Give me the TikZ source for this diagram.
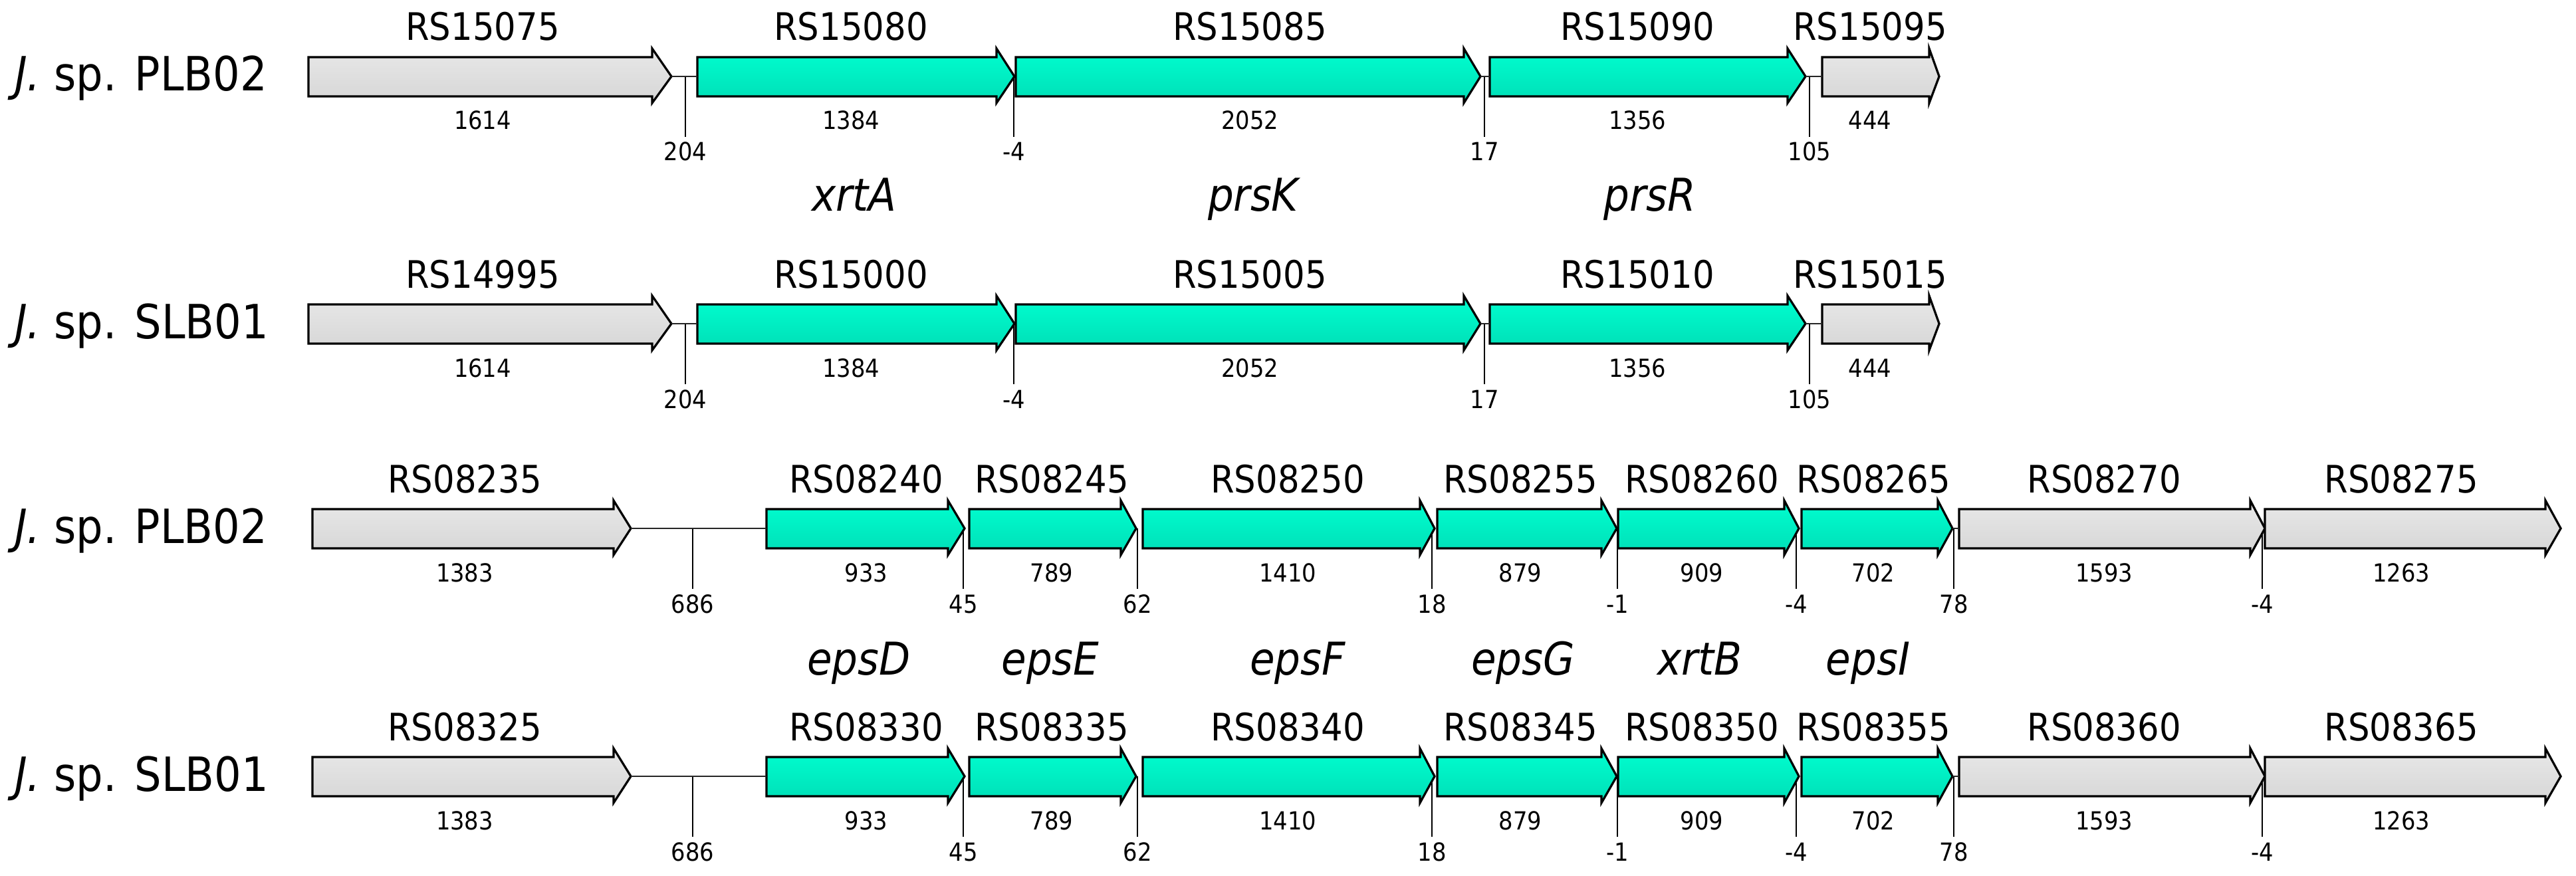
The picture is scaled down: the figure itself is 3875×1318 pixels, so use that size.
\documentclass[tikz,border=0pt]{standalone}
\usepackage{fontspec}
\setmainfont{DejaVu Sans}[FakeStretch=0.9]
\definecolor{cyanfill}{RGB}{0,255,208}
\definecolor{cyandark}{RGB}{0,222,182}
\definecolor{greyfill}{RGB}{232,232,232}
\definecolor{greydark}{RGB}{214,214,214}
\tikzset{
  cyangene/.style={draw=black,line width=0.65pt,line join=miter,top color=cyanfill,middle color=cyanfill,bottom color=cyandark},
  greygene/.style={draw=black,line width=0.65pt,line join=miter,top color=greyfill,middle color=greyfill,bottom color=greydark},
  rslab/.style={anchor=base,inner sep=0pt,font=\fontsize{11.4}{13}\selectfont},
  lenlab/.style={anchor=base,inner sep=0pt,font=\fontsize{7.5}{9}\selectfont},
  namelab/.style={anchor=base,inner sep=0pt,font=\fontsize{13.6}{15}\selectfont\itshape},
  specieslab/.style={anchor=base west,inner sep=0pt,font=\fontsize{14.2}{16}\selectfont},
  tickline/.style={draw=black,line width=0.4pt},
  spacer/.style={draw=black!85,line width=0.5pt}
}
% #1 id, #2 start x, #3 head start x, #4 tip x, #5 centre y, #6 style
\newcommand{\gene}[6]{%
  \draw[#6] (#2,#5-29) -- (#3,#5-29) -- (#3,#5-42) -- (#4,#5) -- (#3,#5+40) -- (#3,#5+30) -- (#2,#5+30) -- cycle;
  \coordinate (#1s) at (#2,#5);
  \coordinate (#1e) at (#4,#5);}
% #1 id, #2 x, #3 centre y, #4 locus name, #5 length
\newcommand{\glabels}[5]{%
  \node[rslab] (#1n) at (#2,#3-54) {#4};
  \node[lenlab] (#1l) at (#2,#3+80) {#5};}
% #1 id, #2 x, #3 centre y, #4 distance
\newcommand{\gtick}[4]{%
  \coordinate (#1t) at (#2,#3);
  \coordinate (#1b) at (#2,#3+91);
  \draw[tickline] (#1t) -- (#1b);
  \node[lenlab] (#1v) at (#2,#3+127) {#4};}
\begin{document}
\begin{tikzpicture}[x=0.2pt,y=-0.2pt]
\useasboundingbox (0,0) rectangle (3875,1318);

% ---------------- Row 1 ----------------
\def\ya{115}
\node[specieslab] (sp1) at (21,\ya+22) {\textit{J.} sp. PLB02};
\gtick{r1a}{1031}{\ya}{204}
\gtick{r1b}{1525}{\ya}{-4}
\gtick{r1c}{2233}{\ya}{17}
\gtick{r1d}{2722}{\ya}{105}
\gene{r1g1}{464}{981}{1010}{\ya}{greygene}
\gene{r1g2}{1049}{1499}{1526}{\ya}{cyangene}
\gene{r1g3}{1528}{2202}{2227}{\ya}{cyangene}
\gene{r1g4}{2241}{2689}{2716}{\ya}{cyangene}
\gene{r1g5}{2741}{2902}{2917}{\ya}{greygene}
\draw[spacer] (r1g1e) -- (r1g2s);
\draw[spacer] (r1g3e) -- (r1g4s);
\draw[spacer] (r1g4e) -- (r1g5s);
\glabels{r1g1}{726}{\ya}{RS15075}{1614}
\glabels{r1g2}{1280}{\ya}{RS15080}{1384}
\glabels{r1g3}{1880}{\ya}{RS15085}{2052}
\glabels{r1g4}{2463}{\ya}{RS15090}{1356}
\glabels{r1g5}{2813}{\ya}{RS15095}{444}

% gene names between rows 1 and 2
\node[namelab] (nxrtA) at (1285,318) {xrtA};
\node[namelab] (nprsK) at (1885,318) {prsK};
\node[namelab] (nprsR) at (2482,318) {prsR};

% ---------------- Row 2 ----------------
\def\yb{487}
\node[specieslab] (sp2) at (21,\yb+22) {\textit{J.} sp. SLB01};
\gtick{r2a}{1031}{\yb}{204}
\gtick{r2b}{1525}{\yb}{-4}
\gtick{r2c}{2233}{\yb}{17}
\gtick{r2d}{2722}{\yb}{105}
\gene{r2g1}{464}{981}{1010}{\yb}{greygene}
\gene{r2g2}{1049}{1499}{1526}{\yb}{cyangene}
\gene{r2g3}{1528}{2202}{2227}{\yb}{cyangene}
\gene{r2g4}{2241}{2689}{2716}{\yb}{cyangene}
\gene{r2g5}{2741}{2902}{2917}{\yb}{greygene}
\draw[spacer] (r2g1e) -- (r2g2s);
\draw[spacer] (r2g3e) -- (r2g4s);
\draw[spacer] (r2g4e) -- (r2g5s);
\glabels{r2g1}{726}{\yb}{RS14995}{1614}
\glabels{r2g2}{1280}{\yb}{RS15000}{1384}
\glabels{r2g3}{1880}{\yb}{RS15005}{2052}
\glabels{r2g4}{2463}{\yb}{RS15010}{1356}
\glabels{r2g5}{2813}{\yb}{RS15015}{444}

% ---------------- Row 3 ----------------
\def\yc{795}
\node[specieslab] (sp3) at (21,\yc+22) {\textit{J.} sp. PLB02};
\gtick{r3a}{1042}{\yc}{686}
\gtick{r3b}{1449}{\yc}{45}
\gtick{r3c}{1711}{\yc}{62}
\gtick{r3d}{2154}{\yc}{18}
\gtick{r3e}{2433}{\yc}{-1}
\gtick{r3f}{2702}{\yc}{-4}
\gtick{r3g}{2939}{\yc}{78}
\gtick{r3h}{3403}{\yc}{-4}
\gene{r3g1}{470}{923}{949}{\yc}{greygene}
\gene{r3g2}{1153}{1426}{1451}{\yc}{cyangene}
\gene{r3g3}{1458}{1686}{1709}{\yc}{cyangene}
\gene{r3g4}{1719}{2136}{2158}{\yc}{cyangene}
\gene{r3g5}{2162}{2409}{2432}{\yc}{cyangene}
\gene{r3g6}{2434}{2684}{2706}{\yc}{cyangene}
\gene{r3g7}{2710}{2915}{2937}{\yc}{cyangene}
\gene{r3g8}{2947}{3385}{3407}{\yc}{greygene}
\gene{r3g9}{3407}{3829}{3852}{\yc}{greygene}
\draw[spacer] (r3g1e) -- (r3g2s);
\draw[spacer] (r3g7e) -- (r3g8s);
\glabels{r3g1}{699}{\yc}{RS08235}{1383}
\glabels{r3g2}{1303}{\yc}{RS08240}{933}
\glabels{r3g3}{1582}{\yc}{RS08245}{789}
\glabels{r3g4}{1937}{\yc}{RS08250}{1410}
\glabels{r3g5}{2287}{\yc}{RS08255}{879}
\glabels{r3g6}{2560}{\yc}{RS08260}{909}
\glabels{r3g7}{2818}{\yc}{RS08265}{702}
\glabels{r3g8}{3165}{\yc}{RS08270}{1593}
\glabels{r3g9}{3612}{\yc}{RS08275}{1263}

% gene names between rows 3 and 4
\node[namelab] (nepsD) at (1292,1015) {epsD};
\node[namelab] (nepsE) at (1580,1015) {epsE};
\node[namelab] (nepsF) at (1952,1015) {epsF};
\node[namelab] (nepsG) at (2291,1015) {epsG};
\node[namelab] (nxrtB) at (2557,1015) {xrtB};
\node[namelab] (nepsI) at (2810,1015) {epsI};

% ---------------- Row 4 ----------------
\def\yd{1168}
\node[specieslab] (sp4) at (21,\yd+22) {\textit{J.} sp. SLB01};
\gtick{r4a}{1042}{\yd}{686}
\gtick{r4b}{1449}{\yd}{45}
\gtick{r4c}{1711}{\yd}{62}
\gtick{r4d}{2154}{\yd}{18}
\gtick{r4e}{2433}{\yd}{-1}
\gtick{r4f}{2702}{\yd}{-4}
\gtick{r4g}{2939}{\yd}{78}
\gtick{r4h}{3403}{\yd}{-4}
\gene{r4g1}{470}{923}{949}{\yd}{greygene}
\gene{r4g2}{1153}{1426}{1451}{\yd}{cyangene}
\gene{r4g3}{1458}{1686}{1709}{\yd}{cyangene}
\gene{r4g4}{1719}{2136}{2158}{\yd}{cyangene}
\gene{r4g5}{2162}{2409}{2432}{\yd}{cyangene}
\gene{r4g6}{2434}{2684}{2706}{\yd}{cyangene}
\gene{r4g7}{2710}{2915}{2937}{\yd}{cyangene}
\gene{r4g8}{2947}{3385}{3407}{\yd}{greygene}
\gene{r4g9}{3407}{3829}{3852}{\yd}{greygene}
\draw[spacer] (r4g1e) -- (r4g2s);
\draw[spacer] (r4g7e) -- (r4g8s);
\glabels{r4g1}{699}{\yd}{RS08325}{1383}
\glabels{r4g2}{1303}{\yd}{RS08330}{933}
\glabels{r4g3}{1582}{\yd}{RS08335}{789}
\glabels{r4g4}{1937}{\yd}{RS08340}{1410}
\glabels{r4g5}{2287}{\yd}{RS08345}{879}
\glabels{r4g6}{2560}{\yd}{RS08350}{909}
\glabels{r4g7}{2818}{\yd}{RS08355}{702}
\glabels{r4g8}{3165}{\yd}{RS08360}{1593}
\glabels{r4g9}{3612}{\yd}{RS08365}{1263}
\end{tikzpicture}
\end{document}
